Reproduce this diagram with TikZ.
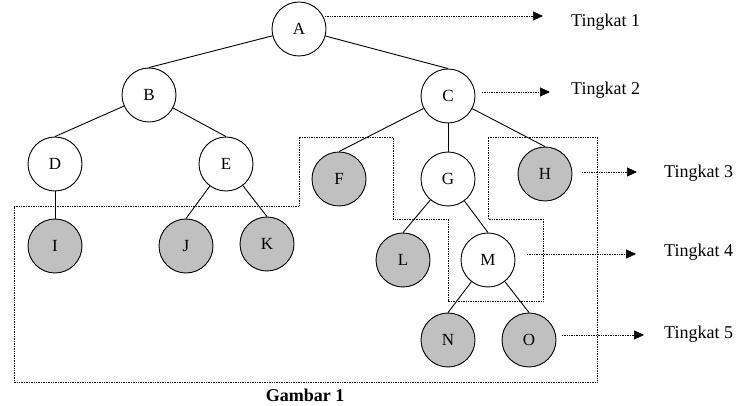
\documentclass[tikz,border=0pt]{standalone}
\usepackage{fontspec}
\setmainfont{Liberation Serif}
\usetikzlibrary{arrows.meta}
\definecolor{leafgray}{RGB}{192,192,192}

\begin{document}
\begin{tikzpicture}[x=1pt,y=-1pt]
\tikzstyle{every node}+=[font=\fontsize{17}{20}\selectfont]
\tikzstyle{vert}=[draw=black,line width=0.9pt,circle,minimum size=54pt,inner sep=0pt]
\tikzstyle{leaf}=[vert,fill=leafgray]
\tikzstyle{level}=[anchor=base west,inner sep=0pt,font=\fontsize{18}{21}\selectfont]
\tikzstyle{levelarrow}=[densely dotted,line width=0.7pt,-{Triangle[length=10pt,width=9pt]}]
\useasboundingbox (0,0) rectangle (742,406);
% tree nodes
\node [vert] (A) at (299,29) {A};
\node [vert] (B) at (149,95) {B};
\node [vert] (C) at (448,96) {C};
\node [vert] (D) at (55,164) {D};
\node [vert] (E) at (226,164) {E};
\node [leaf] (F) at (339,179) {F};
\node [vert] (G) at (448,179) {G};
\node [leaf] (H) at (545,174) {H};
\node [leaf] (I) at (55,246) {I};
\node [leaf] (J) at (186,246) {J};
\node [leaf] (K) at (267,244) {K};
\node [leaf] (L) at (403,260) {L};
\node [vert] (M) at (488,260) {M};
\node [leaf] (N) at (448,340) {N};
\node [leaf] (O) at (529,340) {O};
% edges
\draw [line width=0.9pt] (A) -- (B.north);
\draw [line width=0.9pt] (A) -- (C.north);
\draw [line width=0.9pt] (B) -- (D.north);
\draw [line width=0.9pt] (B) -- (E.north);
\draw [line width=0.9pt] (C) -- (F.north);
\draw [line width=0.9pt] (C) -- (G.north);
\draw [line width=0.9pt] (C) -- (H.north);
\draw [line width=0.9pt] (D) -- (I.north);
\draw [line width=0.9pt] (E) -- (J.north);
\draw [line width=0.9pt] (E) -- (K.north);
\draw [line width=0.9pt] (G) -- (L.north);
\draw [line width=0.9pt] (G) -- (M.north);
\draw [line width=0.9pt] (M) -- (N.north);
\draw [line width=0.9pt] (M) -- (O.north);
% dotted outline round the leaves
\draw [densely dotted,line width=0.7pt] (14,206) -- (299,206) -- (299,137) -- (393,137) -- (393,219)
  -- (448,219) -- (448,301) -- (543,301) -- (543,219) -- (488,219) -- (488,137)
  -- (597,137) -- (597,382) -- (14,382) -- cycle;
% levels
\node [level] (t1) at (571,27) {Tingkat 1};
\node [level] (t2) at (571,95) {Tingkat 2};
\node [level] (t3) at (664,178) {Tingkat 3};
\node [level] (t4) at (664,257) {Tingkat 4};
\node [level] (t5) at (664,338) {Tingkat 5};
\coordinate (s1) at (325,16);
\coordinate (e1) at (543,16);
\coordinate (s2) at (482,92);
\coordinate (e2) at (550,92);
\coordinate (s3) at (582,172);
\coordinate (e3) at (637,172);
\coordinate (s4) at (527,254);
\coordinate (e4) at (636,254);
\coordinate (s5) at (562,335);
\coordinate (e5) at (644,335);
\draw [levelarrow] (s1) -- (e1);
\draw [levelarrow] (s2) -- (e2);
\draw [levelarrow] (s3) -- (e3);
\draw [levelarrow] (s4) -- (e4);
\draw [levelarrow] (s5) -- (e5);
% caption
\node [anchor=base,inner sep=0pt,font=\fontsize{18}{21}\selectfont\bfseries] (cap) at (305,401) {Gambar 1};
\end{tikzpicture}
\end{document}
